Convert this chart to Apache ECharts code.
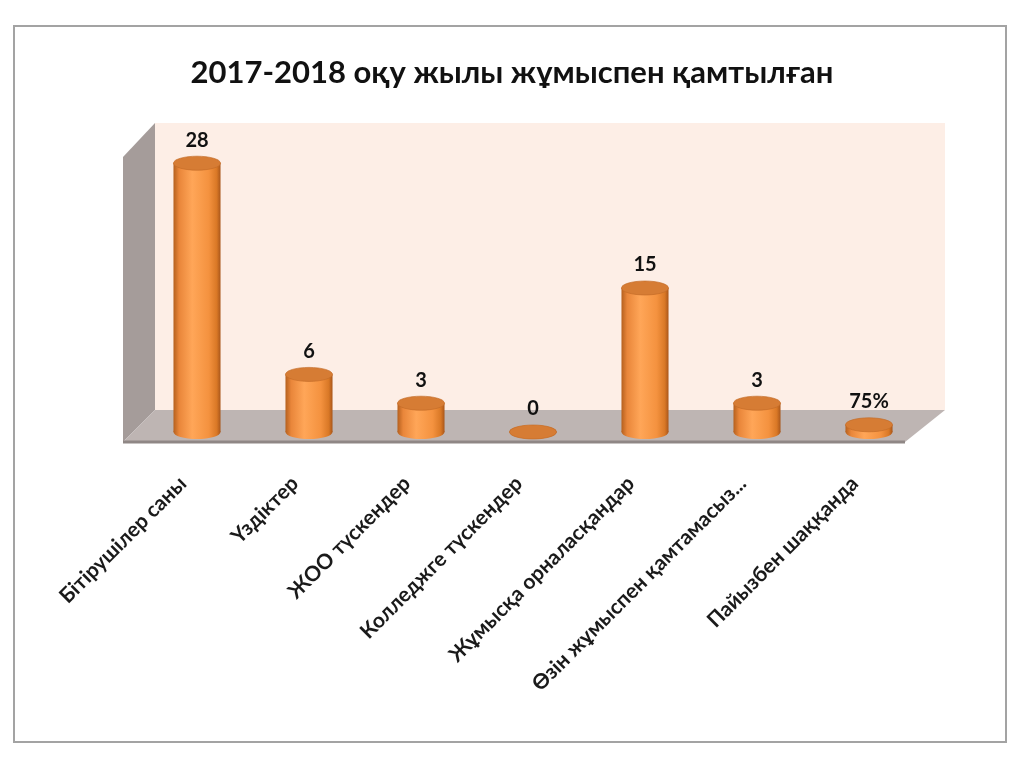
<!DOCTYPE html>
<html>
<head>
<meta charset="utf-8">
<script src="https://cdn.jsdelivr.net/npm/echarts@6/dist/echarts.min.js"></script>
<style>
  html, body { margin: 0; padding: 0; background: #fff; }
  #chart { width: 1024px; height: 768px; }
</style>
</head>
<body>
<div id="chart"></div>
<script>
var titleText = '2017-2018 оқу жылы жұмыспен қамтылған';
var categories = ['Бітірушілер саны', 'Үздіктер', 'ЖОО түскендер', 'Колледжге түскендер',
                  'Жұмысқа орналасқандар', 'Өзін жұмыспен қамтамасыз...', 'Пайызбен шаққанда'];
var values = [28, 6, 3, 0, 15, 3, 0.75];
var valueLabels = ['28', '6', '3', '0', '15', '3', '75%'];

var FONT = 'Lato, "Open Sans", "DejaVu Sans", sans-serif';

// plane of the bars (grid), walls drawn around it
var G = { left: 141, right: 99, top: 144, bottom: 336 };

function renderCylinder(params, api) {
	var i = api.value(0);
	var top = api.coord([i, api.value(1)]);
	var base = api.coord([i, 0]);
	var w = api.size([1, 0])[0] * 0.42;
	var rx = w / 2, ry = 7;
	var grad = new echarts.graphic.LinearGradient(0, 0, 1, 0, [
		{ offset: 0, color: '#B5601E' },
		{ offset: 0.12, color: '#E9863A' },
		{ offset: 0.4, color: '#FFA658' },
		{ offset: 0.75, color: '#F4923F' },
		{ offset: 0.92, color: '#D97826' },
		{ offset: 1, color: '#A9561A' }
	]);
	return {
		type: 'group',
		children: [
			{ type: 'circle', shape: { cx: 0, cy: 0, r: rx }, x: base[0], y: base[1], scaleY: ry / rx,
			  style: { fill: grad } },
			{ type: 'rect', shape: { x: base[0] - rx, y: top[1], width: w, height: base[1] - top[1] },
			  style: { fill: grad } },
			{ type: 'circle', shape: { cx: 0, cy: 0, r: rx }, x: top[0], y: top[1], scaleY: ry / rx,
			  style: { fill: '#D67C34', stroke: '#C26A26', lineWidth: 1 } },
			{ type: 'text', style: { text: valueLabels[i], x: top[0], y: top[1] - ry - 6,
			  align: 'center', verticalAlign: 'bottom', fill: '#111',
			  font: 'bold 20px ' + FONT } }
		]
	};
}

var chart = echarts.init(document.getElementById('chart'));
var data = values.map(function (v, i) { return [i, v]; });

// walls relative to the bar plane
var gl = G.left, gr = 1024 - G.right, gb = 768 - G.bottom;
var back = { x1: gl + 14, x2: gr + 20, y1: 123, y2: gb - 22 };
var front = { x1: gl - 18, x2: gr - 20, y: gb + 10 };

var option = {
	backgroundColor: '#fff',
	title: {
		text: titleText,
		left: 'center',
		top: 52,
		textStyle: { fontFamily: FONT, fontSize: 31, fontWeight: 'bold', color: '#111' }
	},
	grid: { left: G.left, right: G.right, top: G.top, bottom: G.bottom },
	xAxis: {
		type: 'category',
		data: categories,
		axisLine: { show: false },
		axisTick: { show: false },
		axisLabel: {
			interval: 0, rotate: 45, margin: 34, padding: [0, 20, 0, 0],
			fontFamily: FONT, fontSize: 21, fontWeight: 'bold', color: '#1a1a1a'
		}
	},
	yAxis: { type: 'value', min: 0, max: 30, show: false },
	graphic: [
		{ type: 'rect', z: 0, shape: { x: 14, y: 26, width: 992, height: 716 },
		  style: { fill: 'none', stroke: '#A3A3A3', lineWidth: 2 } },
		{ type: 'rect', z: 0, shape: { x: back.x1, y: back.y1, width: back.x2 - back.x1, height: back.y2 - back.y1 },
		  style: { fill: '#FDEEE6' } },
		{ type: 'polygon', z: 0, shape: { points: [[back.x1, back.y1], [back.x1, back.y2], [front.x1, front.y], [front.x1, back.y1 + 34]] },
		  style: { fill: '#A59C9A' } },
		{ type: 'polygon', z: 0, shape: { points: [[back.x1, back.y2], [back.x2, back.y2], [front.x2, front.y], [front.x1, front.y]] },
		  style: { fill: '#BEB5B3' } },
		{ type: 'line', z: 0, shape: { x1: front.x1, y1: front.y, x2: front.x2, y2: front.y },
		  style: { stroke: '#8F8785', lineWidth: 3 } }
	],
	series: [{
		type: 'custom',
		renderItem: renderCylinder,
		encode: { x: 0, y: 1 },
		data: data,
		z: 5
	}]
};
chart.setOption(option);
</script>
</body>
</html>
